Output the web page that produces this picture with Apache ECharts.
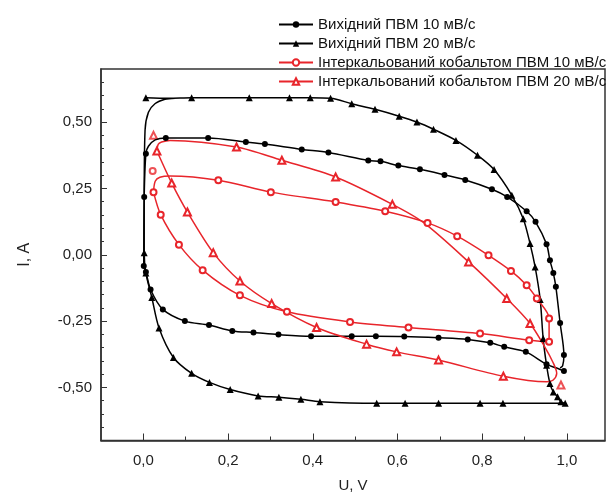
<!DOCTYPE html>
<html><head><meta charset="utf-8">
<script src="https://cdn.jsdelivr.net/npm/echarts@6/dist/echarts.min.js"></script>
<style>html,body{margin:0;padding:0;background:#fff}#c{width:609px;height:494px}</style>
</head><body><div id="c"></div>
<script>
const seriesNames = ['Вихідний ПВМ 10 мВ/с','Вихідний ПВМ 20 мВ/с','Інтеркальований кобальтом ПВМ 10 мВ/с','Інтеркальований кобальтом ПВМ 20 мВ/с'];

const b10U = [0.993,0.974,0.952,0.903,0.852,0.819,0.766,0.697,0.616,0.549,0.492,0.396,0.319,0.260,0.210,0.155,0.098,0.046,0.017,0.006,0.001,0.002,0.006,0.012,0.028,0.053,0.153,0.242,0.287,0.374,0.437,0.531,0.560,0.602,0.653,0.711,0.760,0.823,0.859,0.905,0.926,0.952,0.960,0.968,0.974,0.984,0.993,0.990,0.984];
const b10I = [-0.438,-0.426,-0.413,-0.366,-0.347,-0.332,-0.319,-0.313,-0.308,-0.307,-0.307,-0.307,-0.301,-0.293,-0.287,-0.265,-0.250,-0.206,-0.131,-0.065,-0.042,0.218,0.381,0.409,0.433,0.440,0.440,0.425,0.417,0.397,0.385,0.355,0.352,0.336,0.322,0.301,0.282,0.247,0.218,0.164,0.124,0.040,-0.021,-0.069,-0.121,-0.257,-0.378,-0.418,-0.426];
const b10Mk = [1,0,1,1,1,1,1,1,1,1,1,1,1,1,1,1,1,1,1,1,1,1,1,0,0,1,1,1,1,1,1,1,1,1,1,1,1,1,1,1,1,1,1,1,1,1,1,0,0];

const b20U = [0.006,0.060,0.114,0.250,0.345,0.394,0.442,0.492,0.547,0.604,0.646,0.685,0.738,0.789,0.828,0.870,0.897,0.913,0.925,0.937,0.944,0.952,0.960,0.968,0.978,0.986,0.996,0.849,0.795,0.697,0.618,0.551,0.417,0.372,0.320,0.271,0.205,0.156,0.114,0.071,0.037,0.020,0.006,0.002,0.002,0.004,0.012,0.028,0.051,0.075];
const b20I = [0.592,0.590,0.592,0.592,0.592,0.592,0.590,0.569,0.548,0.522,0.500,0.473,0.431,0.375,0.321,0.224,0.136,0.042,-0.046,-0.169,-0.316,-0.416,-0.485,-0.517,-0.535,-0.554,-0.560,-0.560,-0.560,-0.560,-0.560,-0.560,-0.554,-0.545,-0.537,-0.532,-0.508,-0.481,-0.447,-0.387,-0.276,-0.161,-0.069,0.008,0.205,0.469,0.537,0.570,0.586,0.590];
const b20Mk = [1,0,1,1,1,1,1,1,1,1,1,1,1,1,1,1,1,1,1,1,1,1,1,1,1,1,1,1,1,1,1,1,1,1,1,1,1,1,1,1,1,1,1,1,0,0,0,0,0,0];

const c10U = [0.024,0.028,0.039,0.063,0.177,0.301,0.454,0.571,0.671,0.741,0.815,0.868,0.905,0.929,0.958,0.958,0.958,0.911,0.795,0.626,0.488,0.339,0.228,0.140,0.084,0.041,0.024];
const c10I = [0.236,0.277,0.292,0.297,0.281,0.236,0.199,0.164,0.120,0.070,-0.002,-0.061,-0.115,-0.165,-0.240,-0.284,-0.328,-0.322,-0.297,-0.274,-0.253,-0.215,-0.153,-0.058,0.038,0.151,0.236];
const c10Mk = [1,0,0,0,1,1,1,1,1,1,1,1,1,1,1,0,1,1,1,1,1,1,1,1,1,1,0];

const c20U = [0.032,0.035,0.043,0.063,0.220,0.327,0.454,0.588,0.661,0.768,0.858,0.913,0.948,0.967,0.976,0.967,0.952,0.850,0.697,0.598,0.527,0.409,0.303,0.228,0.165,0.104,0.067,0.032];
const c20I = [0.391,0.416,0.425,0.431,0.406,0.356,0.293,0.190,0.122,-0.027,-0.165,-0.259,-0.348,-0.405,-0.447,-0.473,-0.479,-0.458,-0.397,-0.366,-0.337,-0.274,-0.184,-0.099,0.008,0.161,0.270,0.391];
const c20Mk = [1,0,0,0,1,1,1,1,0,1,1,1,0,0,0,0,0,1,1,1,1,1,1,1,1,1,1,0];

const c10ExtraU = [0.022]; const c10ExtraI = [0.316];
const c20ExtraU = [0.024,0.986]; const c20ExtraI = [0.450,-0.491];

const xTicks = [0,0.2,0.4,0.6,0.8,1.0];
const xMinorTicks = [0.1,0.3,0.5,0.7,0.9];
const yTicks = [-0.5,-0.25,0,0.25,0.5];
const yMinorTicks = [-0.65,-0.6,-0.55,-0.45,-0.4,-0.35,-0.3,-0.2,-0.15,-0.1,-0.05,0.05,0.1,0.15,0.2,0.3,0.35,0.4,0.45,0.55,0.6,0.65];

const RED = '#e8252b';
const AX = '#333';
function build(U, I, Mk) {
  return U.map((u, i) => Mk[i] ? { value: [u, I[i]] } : { value: [u, I[i]], symbol: 'none' });
}
function pairs(U, I) { return U.map((u, i) => [u, I[i]]); }

const chart = echarts.init(document.getElementById('c'), null, { renderer: 'canvas' });
const font = 'Liberation Sans, Arial, sans-serif';
const lineBase = { type: 'line', smooth: 0.3, showAllSymbol: true, animation: false, emphasis: { disabled: true }, xAxisIndex: 0, yAxisIndex: 0 };
chart.setOption({
  animation: false,
  textStyle: { fontFamily: font },
  grid: { left: 101, right: 4, top: 69, bottom: 53.5, show: true, borderColor: AX, borderWidth: 1.5, containLabel: false, outerBoundsMode: 'none' },
  legend: {
    orient: 'vertical', left: 278, top: 16, padding: 0, itemWidth: 34, itemHeight: 8, itemGap: 2,
    data: seriesNames,
    textStyle: { fontSize: 15, color: '#111', fontFamily: font, lineHeight: 17 },
    selectedMode: false
  },
  xAxis: [{
    type: 'value', min: -0.1, max: 1.09,
    name: 'U, V', nameLocation: 'middle', nameGap: 38,
    nameTextStyle: { fontSize: 15, color: '#222', fontFamily: font },
    axisLine: { onZero: false, lineStyle: { color: AX, width: 1.5 } },
    axisTick: { inside: true, length: 7, customValues: xTicks, lineStyle: { color: AX, width: 1 } },
    axisLabel: { customValues: xTicks, margin: 13, fontSize: 15, color: '#222', formatter: v => v.toFixed(1).replace('.', ',') },
    splitLine: { show: false }
  }, {
    type: 'value', min: -0.1, max: 1.09, position: 'bottom',
    axisLine: { show: false, onZero: false },
    axisTick: { inside: true, length: 4, customValues: xMinorTicks, lineStyle: { color: AX, width: 1 } },
    axisLabel: { show: false }, splitLine: { show: false }
  }],
  yAxis: [{
    type: 'value', min: -0.7, max: 0.7, position: 'left',
    name: 'I, A', nameLocation: 'middle', nameGap: 68, nameRotate: 90,
    nameTextStyle: { fontSize: 16, color: '#222', fontFamily: font },
    axisLine: { show: true, onZero: false, lineStyle: { color: AX, width: 1.5 } },
    axisTick: { show: true, inside: true, length: 6, customValues: yTicks, lineStyle: { color: AX, width: 1 } },
    axisLabel: { customValues: yTicks, margin: 9, fontSize: 15, color: '#222', formatter: v => v.toFixed(2).replace('.', ',') },
    splitLine: { show: false }
  }, {
    type: 'value', min: -0.7, max: 0.7, position: 'left', offset: 0,
    axisLine: { show: false, onZero: false },
    axisTick: { show: true, inside: true, length: 3, customValues: yMinorTicks, lineStyle: { color: AX, width: 1 } },
    axisLabel: { show: false }, splitLine: { show: false }
  }],
  series: [
    Object.assign({}, lineBase, { name: seriesNames[0], data: build(b10U, b10I, b10Mk), symbol: 'circle', symbolSize: 6,
      lineStyle: { color: '#000', width: 1.5 }, itemStyle: { color: '#000' } }),
    Object.assign({}, lineBase, { name: seriesNames[1], data: build(b20U, b20I, b20Mk), symbol: 'triangle', symbolSize: 7,
      lineStyle: { color: '#000', width: 1.5 }, itemStyle: { color: '#000' } }),
    Object.assign({}, lineBase, { name: seriesNames[2], data: build(c10U, c10I, c10Mk), symbol: 'emptyCircle', symbolSize: 6,
      lineStyle: { color: RED, width: 1.5 }, itemStyle: { color: RED, borderColor: RED, borderWidth: 1 } }),
    Object.assign({}, lineBase, { name: seriesNames[3], data: build(c20U, c20I, c20Mk), symbol: 'emptyTriangle', symbolSize: 7,
      lineStyle: { color: RED, width: 1.5 }, itemStyle: { color: RED, borderColor: RED, borderWidth: 1 } }),
    { type: 'scatter', name: 'c10start', data: pairs(c10ExtraU, c10ExtraI), symbol: 'emptyCircle', symbolSize: 6,
      itemStyle: { color: RED, borderColor: RED, borderWidth: 1 }, emphasis: { disabled: true }, animation: false },
    { type: 'scatter', name: 'c20start', data: pairs(c20ExtraU, c20ExtraI), symbol: 'emptyTriangle', symbolSize: 7,
      itemStyle: { color: RED, borderColor: RED, borderWidth: 1 }, emphasis: { disabled: true }, animation: false }
  ]
});
</script>
</body></html>
